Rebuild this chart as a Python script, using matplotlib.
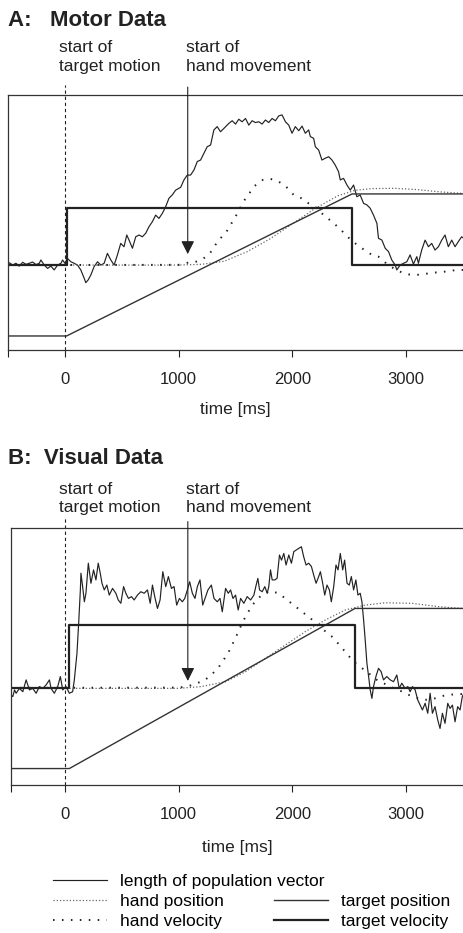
import matplotlib
matplotlib.use('Agg')
import matplotlib.pyplot as plt

plt.rcParams['font.family'] = ['Liberation Sans', 'DejaVu Sans']

# ---------------- data (time in ms, values in % of axis height) ----------------
# A: motor data
motor_vector = [
    (-500, 33.8), (-488, 34.2), (-459, 33.3), (-430, 34.0), (-401, 32.9), (-371, 34.4), (-342, 33.6),
    (-313, 34.0), (-284, 34.5), (-254, 33.5), (-225, 34.0), (-211, 35.3), (-181, 33.3), (-152, 32.0),
    (-123, 32.9), (-94, 31.4), (-64, 33.3), (-35, 34.0), (-20, 35.3), (0, 34.0), (23, 35.9), (53, 34.6),
    (82, 34.0), (111, 33.3), (140, 31.4), (170, 28.1), (184, 26.4), (205, 27.5), (228, 29.4), (257, 32.7),
    (287, 34.6), (316, 33.3), (345, 34.0), (374, 37.9), (404, 35.3), (433, 33.3), (462, 37.3), (491, 41.8),
    (520, 40.5), (544, 45.1), (564, 43.1), (594, 39.9), (623, 44.4), (652, 45.1), (681, 44.4), (711, 45.8),
    (740, 48.4), (769, 50.3), (798, 52.9), (827, 51.6), (857, 53.6), (886, 56.2), (915, 59.5), (944, 60.8),
    (974, 62.7), (1018, 63.8), (1047, 66.7), (1076, 68.6), (1105, 68.6), (1135, 70.6), (1164, 73.9),
    (1193, 74.5), (1222, 77.1), (1251, 79.7), (1281, 80.4), (1310, 86.3), (1339, 87.6), (1368, 85.6),
    (1398, 86.9), (1442, 88.9), (1471, 89.9), (1500, 88.6), (1529, 90.5), (1558, 89.5), (1588, 90.8),
    (1617, 88.2), (1646, 89.9), (1675, 89.2), (1705, 89.5), (1734, 88.6), (1763, 90.2), (1792, 89.2),
    (1822, 90.8), (1851, 89.9), (1880, 91.8), (1909, 92.2), (1939, 89.5), (1968, 88.2), (1997, 85.0),
    (2026, 87.6), (2056, 86.0), (2085, 87.8), (2114, 85.0), (2143, 86.3), (2158, 83.7), (2187, 83.0),
    (2202, 79.7), (2231, 78.4), (2260, 74.5), (2289, 75.2), (2319, 75.8), (2348, 74.5), (2377, 72.5),
    (2406, 69.9), (2421, 66.7), (2450, 67.3), (2480, 64.7), (2509, 62.7), (2538, 64.7), (2567, 60.1),
    (2596, 60.8), (2626, 57.5), (2655, 56.9), (2684, 55.6), (2713, 52.9), (2743, 49.7), (2757, 43.8),
    (2787, 43.1), (2816, 39.9), (2845, 38.6), (2874, 35.3), (2904, 33.3), (2918, 31.4), (2947, 33.3),
    (2977, 34.0), (3006, 34.6), (3035, 37.3), (3064, 33.7), (3094, 36.6), (3108, 34.0), (3137, 39.2),
    (3167, 43.1), (3196, 40.5), (3225, 41.8), (3254, 39.2), (3284, 40.5), (3313, 43.1), (3342, 45.1),
    (3371, 40.5), (3401, 43.1), (3430, 40.5), (3459, 42.5), (3488, 44.4), (3500, 44.0),
]
motor_hand_pos = [
    (-500, 33.3), (1000, 33.3), (1200, 33.6), (1400, 34.8), (1600, 38.5), (1800, 43.5), (2000, 49.5),
    (2200, 55.5), (2400, 60.5), (2550, 62.6), (2700, 63.3), (2900, 63.4), (3100, 62.9), (3300, 62.0),
    (3500, 61.4),
]
motor_hand_vel = [
    (-500, 33.3), (1000, 33.4), (1076, 34.2), (1135, 34.4), (1202, 35.3), (1275, 37.9), (1345, 42.7),
    (1421, 46.4), (1500, 52.3), (1573, 58.4), (1667, 64.3), (1740, 66.7), (1807, 67.1), (1871, 66.3),
    (1944, 64.1), (2012, 60.8), (2079, 59.5), (2143, 57.5), (2210, 55.8), (2275, 52.9), (2348, 50.3),
    (2421, 47.4), (2485, 44.4), (2553, 41.8), (2611, 39.9), (2699, 37.3), (2757, 36.6), (2845, 33.2),
    (2930, 31.0), (3006, 29.7), (3079, 29.4), (3152, 29.7), (3225, 30.3), (3298, 30.5), (3371, 30.9),
    (3444, 31.4), (3500, 31.4),
]
motor_target_pos = [(-500, 5.5), (15, 5.5), (2525, 61.2), (3500, 61.2)]
motor_target_vel = [(-500, 33.3), (15, 55.6), (2525, 33.3), (3500, 33.3)]

# B: visual data
visual_vector = [
    (-475, 35.0), (-459, 34.4), (-444, 37.0), (-430, 35.7), (-401, 37.6), (-371, 36.3), (-342, 40.9),
    (-313, 37.0), (-284, 37.6), (-254, 35.7), (-225, 38.3), (-196, 37.6), (-167, 38.9), (-137, 40.9),
    (-123, 37.6), (-94, 35.7), (-64, 38.3), (-41, 42.2), (-20, 37.0), (9, 38.3), (38, 35.7), (67, 36.3),
    (82, 40.9), (105, 51.2), (120, 62.9), (135, 75.9), (140, 82.4), (155, 77.2), (170, 71.3), (184, 74.6),
    (205, 86.3), (228, 78.5), (251, 83.7), (272, 79.8), (292, 86.3), (310, 82.4), (325, 78.5), (345, 75.9),
    (368, 77.8), (389, 73.9), (418, 76.5), (447, 74.6), (468, 72.0), (491, 70.7), (515, 77.2), (535, 74.6),
    (558, 72.6), (585, 73.3), (608, 72.0), (637, 73.9), (667, 75.2), (696, 74.6), (725, 75.9), (749, 70.7),
    (769, 77.8), (789, 73.3), (813, 68.7), (836, 72.0), (860, 83.0), (886, 77.2), (909, 81.1), (936, 76.5),
    (959, 77.2), (982, 70.0), (1006, 72.6), (1032, 71.3), (1053, 72.6), (1076, 75.9), (1096, 79.1),
    (1120, 74.6), (1143, 72.6), (1164, 77.2), (1187, 79.8), (1211, 70.0), (1237, 73.3), (1257, 75.9),
    (1287, 77.8), (1310, 72.6), (1339, 71.3), (1363, 72.6), (1383, 67.4), (1412, 76.5), (1436, 74.6),
    (1456, 75.9), (1477, 72.6), (1500, 73.9), (1523, 68.1), (1544, 72.6), (1573, 70.7), (1602, 73.3),
    (1632, 72.0), (1661, 73.9), (1681, 77.8), (1696, 80.4), (1711, 75.9), (1734, 75.2), (1757, 77.2),
    (1778, 74.6), (1792, 77.2), (1807, 83.7), (1822, 79.8), (1845, 79.8), (1865, 80.4), (1886, 89.5),
    (1904, 87.5), (1924, 90.1), (1944, 85.6), (1968, 89.5), (1991, 86.3), (2012, 90.8), (2032, 91.4),
    (2056, 92.1), (2079, 92.7), (2099, 88.8), (2120, 85.6), (2143, 86.3), (2167, 85.0), (2187, 81.7),
    (2208, 78.5), (2225, 80.4), (2246, 83.0), (2266, 78.5), (2284, 73.9), (2304, 77.8), (2325, 75.9),
    (2342, 71.3), (2363, 77.2), (2383, 85.6), (2401, 83.7), (2421, 90.1), (2442, 83.7), (2459, 87.5),
    (2480, 78.5), (2500, 77.8), (2518, 81.1), (2538, 75.9), (2558, 79.8), (2576, 73.9), (2596, 74.6),
    (2611, 71.3), (2626, 64.2), (2640, 56.4), (2655, 47.3), (2670, 42.2), (2684, 37.0), (2699, 33.7),
    (2713, 38.3), (2734, 42.2), (2757, 45.4), (2780, 44.1), (2801, 40.9), (2830, 42.2), (2860, 40.9),
    (2889, 40.2), (2918, 42.8), (2939, 37.6), (2962, 39.6), (2991, 37.6), (3015, 38.3), (3035, 36.3),
    (3056, 38.3), (3079, 37.0), (3102, 33.1), (3123, 31.1), (3143, 29.2), (3167, 31.8), (3190, 27.9),
    (3211, 35.7), (3231, 27.9), (3254, 30.5), (3278, 25.3), (3298, 22.0), (3319, 27.9), (3342, 24.0),
    (3366, 31.8), (3386, 29.8), (3407, 31.1), (3430, 24.6), (3453, 30.5), (3474, 29.2), (3494, 34.4),
    (3500, 35.0),
]
visual_hand_pos = [
    (-475, 37.6), (1000, 37.6), (1200, 38.3), (1412, 40.2), (1588, 44.1), (1763, 49.3), (1939, 54.5),
    (2114, 59.7), (2289, 64.2), (2465, 68.1), (2640, 70.0), (2816, 70.9), (3050, 70.7), (3284, 69.4),
    (3500, 68.7),
]
visual_hand_vel = [
    (-475, 37.8), (1000, 37.9), (1076, 38.3), (1222, 40.6), (1287, 42.8), (1354, 46.0), (1433, 51.2),
    (1500, 57.3), (1564, 63.6), (1646, 70.0), (1720, 73.5), (1800, 75.5), (1880, 74.6), (1953, 72.0),
    (2012, 70.0), (2085, 67.4), (2158, 64.9), (2246, 61.3), (2304, 59.3), (2354, 57.5), (2421, 54.1),
    (2480, 51.0), (2538, 48.0), (2596, 46.0), (2670, 43.5), (2743, 40.9), (2874, 38.0), (2933, 37.0),
    (3006, 35.4), (3073, 34.1), (3152, 33.1), (3225, 33.3), (3298, 34.4), (3357, 35.0), (3430, 35.3),
    (3500, 35.4),
]
visual_target_pos = [(-475, 6.4), (38, 6.4), (2550, 68.7), (3500, 68.7)]
visual_target_vel = [(-475, 37.8), (38, 62.3), (2547, 37.8), (3500, 37.8)]

x_ticks = [0, 1000, 2000, 3000]
move_start = 1080  # start of hand movement (ms)

ink = '#222222'
fs = 12.5


def xy(pairs):
    return [p[0] for p in pairs], [p[1] for p in pairs]


def draw_panel(ax, x_left, vec, hand_pos, hand_vel, tgt_pos, tgt_vel, arrow_tip, arrow_top, text_y, lab_pad):
    t, v = xy(vec)
    ax.plot(t, v, color=ink, lw=0.85)
    t, v = xy(hand_pos)
    ax.plot(t, v, color='#666666', lw=0.9, ls=(0, (1, 1.6)))
    t, v = xy(hand_vel)
    ax.plot(t, v, color=ink, lw=1.4, ls=(0, (0.8, 3.8)))
    t, v = xy(tgt_pos)
    ax.plot(t, v, color='#333333', lw=1.0)
    t, v = xy(tgt_vel)
    ax.plot(t, v, color=ink, lw=1.6, drawstyle='steps-post')

    ax.set_xlim(x_left, 3500)
    ax.set_ylim(0, 100)
    ax.set_xticks([x_left] + x_ticks)
    ax.set_xticklabels([''] + [str(x) for x in x_ticks])
    ax.set_yticks([])
    ax.tick_params(axis='x', direction='out', length=5, width=0.8, pad=10.5, labelsize=12, colors=ink)
    for side in ['left', 'top', 'bottom']:
        ax.spines[side].set_linewidth(0.9)
        ax.spines[side].set_color('#333333')
    ax.spines['right'].set_visible(False)
    ax.set_xlabel('time [ms]', fontsize=fs, labelpad=lab_pad, color=ink)

    # start of target motion
    ax.axvline(0, ymin=0, ymax=1.04, clip_on=False, color=ink, lw=0.8, ls=(0, (3, 2.5)))
    # start of hand movement
    ax.annotate('', xy=(move_start, arrow_tip), xytext=(move_start, arrow_top),
                textcoords=('data', 'axes fraction'),
                arrowprops=dict(arrowstyle='-|>', mutation_scale=20, lw=0.8, color=ink,
                                shrinkA=0, shrinkB=0), annotation_clip=False)
    tr = ax.get_xaxis_transform()
    ax.text(-55, text_y, 'start of\ntarget motion', transform=tr, fontsize=fs, va='top', ha='left',
            color=ink, linespacing=1.3)
    ax.text(1061, text_y, 'start of\nhand movement', transform=tr, fontsize=fs, va='top', ha='left',
            color=ink, linespacing=1.3)


W, H = 463, 933
fig = plt.figure(figsize=(W / 100, H / 100), dpi=100)

axA = fig.add_axes([8 / W, 1 - 350 / H, 1 - 8 / W, 255 / H])
draw_panel(axA, -500, motor_vector, motor_hand_pos, motor_hand_vel, motor_target_pos,
           motor_target_vel, 37.6, 1.031, 1.216, 11.2)
axB = fig.add_axes([11 / W, 1 - 785 / H, 1 - 11 / W, 257 / H])
draw_panel(axB, -475, visual_vector, visual_hand_pos, visual_hand_vel, visual_target_pos,
           visual_target_vel, 40.5, 1.025, 1.18, 13.3)

fig.text(8 / W, 1 - 26 / H, 'A:   Motor Data', fontsize=16, fontweight='bold', va='baseline', color=ink)
fig.text(8 / W, 1 - 464 / H, 'B:  Visual Data', fontsize=16, fontweight='bold', va='baseline', color=ink)

# legend
h_vec, = axA.plot([], [], color=ink, lw=0.85)
h_hp, = axA.plot([], [], color='#666666', lw=0.9, ls=(0, (1, 1.6)))
h_hv, = axA.plot([], [], color=ink, lw=1.4, ls=(0, (0.8, 3.8)))
h_tp, = axA.plot([], [], color='#333333', lw=1.0)
h_tv, = axA.plot([], [], color=ink, lw=1.6)
leg_kw = dict(frameon=False, fontsize=fs, borderpad=0, borderaxespad=0, handlelength=3.1,
              handletextpad=0.75, labelspacing=0.27, loc='upper left')
leg1 = fig.legend([h_vec], ['length of population vector'], bbox_to_anchor=(53 / W, 1 - 874 / H), **leg_kw)
leg2 = fig.legend([h_hp, h_hv, h_tp, h_tv], ['hand position', 'hand velocity', 'target position', 'target velocity'],
                  ncol=2, columnspacing=2.9, bbox_to_anchor=(53 / W, 1 - 894 / H), **leg_kw)

fig.savefig('out.png', dpi=100)
